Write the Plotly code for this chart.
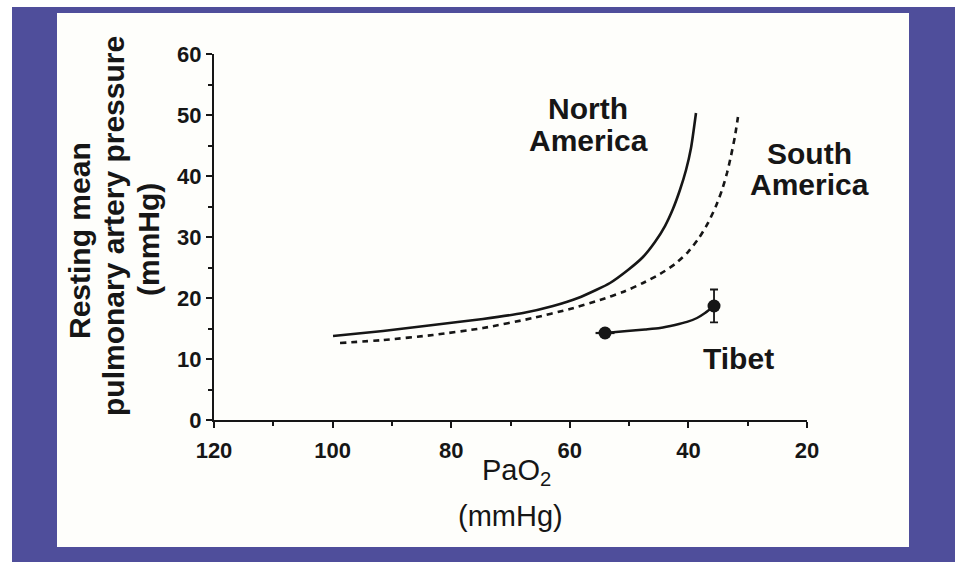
import plotly.graph_objects as go

# ---------------- data ----------------
na_pao2 = [99.93, 91.50, 83.07, 74.64, 67.89, 62.83, 58.62, 55.58, 53.22, 50.19, 47.66,
           45.64, 43.95, 42.61, 41.43, 40.40, 39.56, 38.72]
na_ppa = [13.77, 14.59, 15.57, 16.56, 17.54, 18.69, 20.00, 21.31, 22.46, 24.59, 26.72,
          29.18, 31.80, 34.59, 37.70, 40.98, 44.59, 50.33]

sa_pao2 = [98.75, 91.50, 83.07, 74.64, 66.21, 59.97, 54.91, 51.03, 47.66, 44.79, 42.26,
           40.07, 38.21, 36.69, 35.35, 34.33, 33.49, 32.82, 32.14, 31.64]
sa_ppa = [12.62, 13.11, 13.93, 15.08, 16.72, 18.20, 19.67, 20.98, 22.46, 23.93, 25.57,
          27.54, 29.84, 32.30, 35.08, 37.70, 40.49, 43.28, 46.56, 49.67]

tibet_pao2 = [54.06, 35.68]
tibet_ppa = [14.26, 18.69]
tibet_err_x = [1.6, 0.9]
tibet_err_y = [0.4, 2.7]

tibet_path_pao2 = [54.06, 50.35, 47.32, 44.79, 42.26, 40.24, 38.55, 37.20, 35.68]
tibet_path_ppa = [14.26, 14.59, 14.84, 15.08, 15.57, 16.07, 16.72, 17.54, 18.69]

x_ticks = [120, 100, 80, 60, 40, 20]
y_ticks = [0, 10, 20, 30, 40, 50, 60]

# ---------------- layout geometry ----------------
W, H = 955, 562
L, R, T, B = 214, 807, 54, 420  # plot area pixel bounds
INK = "#161616"
FONT = "Liberation Sans, Arial, Helvetica, sans-serif"


def px(xp):
    return (xp - L) / (R - L)


def py(yp):
    return (B - yp) / (B - T)


fig = go.Figure()

fig.add_trace(go.Scatter(
    x=na_pao2, y=na_ppa, mode="lines",
    line=dict(color=INK, width=2.6, shape="spline", smoothing=0.6),
    hoverinfo="skip", showlegend=False, cliponaxis=False))

fig.add_trace(go.Scatter(
    x=sa_pao2, y=sa_ppa, mode="lines",
    line=dict(color=INK, width=2.6, dash="6px,5px", shape="spline", smoothing=0.6),
    hoverinfo="skip", showlegend=False, cliponaxis=False))

fig.add_trace(go.Scatter(
    x=tibet_path_pao2, y=tibet_path_ppa, mode="lines",
    line=dict(color=INK, width=2.4, shape="spline", smoothing=0.6),
    hoverinfo="skip", showlegend=False))

fig.add_trace(go.Scatter(
    x=tibet_pao2, y=tibet_ppa, mode="markers",
    marker=dict(color=INK, size=13, symbol="circle"),
    error_x=dict(type="data", array=tibet_err_x, color=INK, thickness=2.2, width=0),
    error_y=dict(type="data", array=tibet_err_y, color=INK, thickness=1.8, width=4),
    hoverinfo="skip", showlegend=False))

axis_common = dict(
    showline=True, linecolor=INK, linewidth=2, showgrid=False, zeroline=False,
    ticks="outside", ticklen=6, tickwidth=2, tickcolor=INK,
    tickfont=dict(family=FONT, size=22, color=INK, weight="bold"),
)

fig.update_xaxes(range=[120, 20], tickvals=x_ticks, ticktext=[str(v) for v in x_ticks],
                 ticklabelstandoff=4,
                 minor=dict(dtick=10, ticklen=4, tickwidth=1.5, tickcolor=INK, ticks="outside", showgrid=False),
                 **axis_common)
fig.update_yaxes(range=[0, 60], tickvals=y_ticks, ticktext=[str(v) for v in y_ticks],
                 minor=dict(dtick=5, ticklen=4, tickwidth=1.5, tickcolor=INK, ticks="outside", showgrid=False),
                 **axis_common)

shapes = [
    # white strips at top and left of the image
    dict(type="rect", xref="paper", yref="paper", x0=px(0), x1=px(W), y0=py(7), y1=py(0),
         fillcolor="white", line_width=0, layer="below"),
    dict(type="rect", xref="paper", yref="paper", x0=px(0), x1=px(12), y0=py(H), y1=py(0),
         fillcolor="white", line_width=0, layer="below"),
    # cream panel
    dict(type="rect", xref="paper", yref="paper", x0=px(57), x1=px(909), y0=py(547), y1=py(13),
         fillcolor="#fefefb", line_width=0, layer="below"),
]

bold = dict(family=FONT, size=30, color=INK)
reg = dict(family=FONT, size=29, color=INK)


def ann(text, xp, yp, font, angle=0):
    return dict(text=text, xref="paper", yref="paper", x=px(xp), y=py(yp),
                xanchor="center", yanchor="middle", showarrow=False, font=font, textangle=angle)


annotations = [
    ann("<b>Resting mean</b>", 79, 241, bold, -90),
    ann("<b>pulmonary artery pressure</b>", 113, 226, bold, -90),
    ann("<b>(mmHg)</b>", 148, 240, bold, -90),
    ann("PaO<sub>2</sub>", 516, 472, reg),
    ann("(mmHg)", 510, 516, reg),
    ann("<b>North</b>", 588, 108, bold),
    ann("<b>America</b>", 588, 140, bold),
    ann("<b>South</b>", 809, 153, bold),
    ann("<b>America</b>", 809, 185, bold),
    ann("<b>Tibet</b>", 738, 358, bold),
]

fig.update_layout(
    width=W, height=H, autosize=False,
    margin=dict(l=L, r=W - R, t=T, b=H - B, pad=0),
    paper_bgcolor="#4f4e9b", plot_bgcolor="rgba(0,0,0,0)",
    shapes=shapes, annotations=annotations, showlegend=False,
    font=dict(family=FONT, color=INK),
)

fig.write_html("out.html", config={"displayModeBar": False},
               post_script="document.body.style.margin='0';document.body.style.overflow='hidden';")
